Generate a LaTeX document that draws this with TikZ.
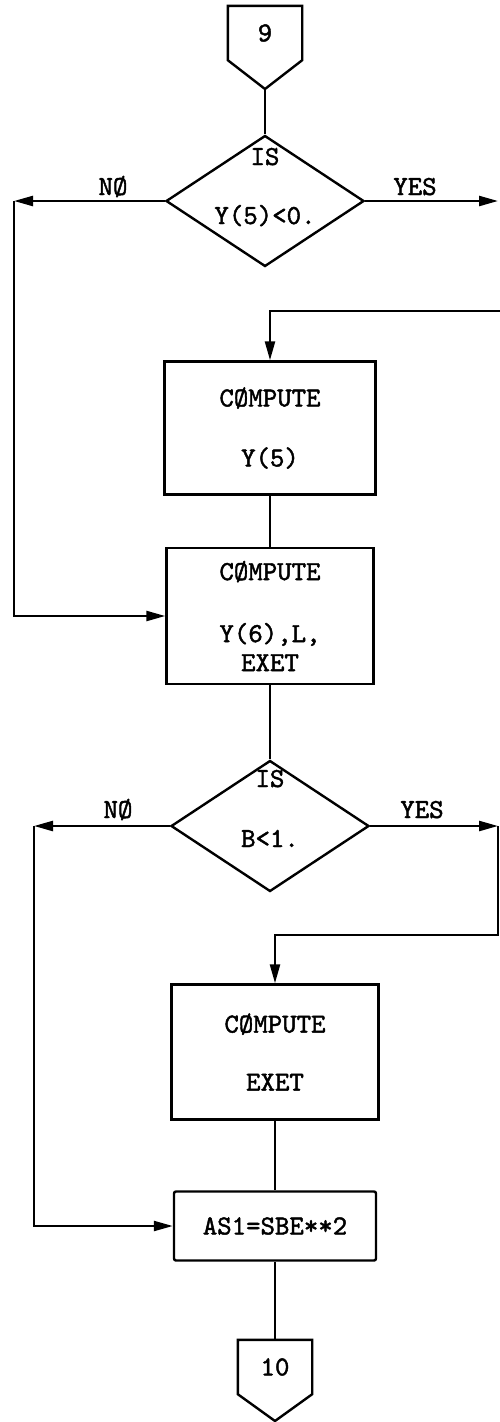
\documentclass[tikz,border=0pt]{standalone}
\usepackage{fontspec}
\setmonofont{lmmono10-regular.otf}[FakeBold=1.6]
\usepackage{tikz}
\usetikzlibrary{shapes.geometric, arrows.meta}
\tikzstyle{box} = [rectangle, minimum width=207pt, minimum height=135pt, align=center, inner sep=0pt, draw=black, line width=2.4pt, fill=white]
\tikzstyle{test} = [diamond, minimum width=198pt, minimum height=131pt, inner sep=0pt, draw=black, line width=2.4pt]
\tikzstyle{page} = [rectangle, minimum width=74pt, minimum height=54pt, inner sep=0pt]
\tikzstyle{word} = [inner sep=0pt, anchor=base]
\tikzstyle{line} = [line width=2.4pt]
\tikzstyle{arrow} = [line width=2.4pt, -{Triangle[length=19pt,width=10pt]}]

\begin{document}
\begin{tikzpicture}[x=1pt, y=-1pt, font=\ttfamily\fontsize{27.5}{30}\selectfont]
\useasboundingbox (0,0) rectangle (500,1422);

\node (c9) [page] at (265,33) {9};
\coordinate (c9tip) at (265,89);
\draw [line] (c9.north west) -- (c9.north east) -- (c9.south east) -- (c9tip) -- (c9.south west) -- cycle;

\node (d1) [test] at (265,201) {};
\node (is1) [word] at (265,165) {IS};
\node (q1) [word] at (265,224) {Y(5)<0.};

\node (b1) [box, minimum width=211pt, minimum height=133pt] at (270,428) {CØMPUTE\\[30pt]Y(5)};
\node (b2) [box, minimum height=136pt] at (270,616) {CØMPUTE\\[32pt]Y(6),L,\\[-1pt]EXET};

\node (d2) [test] at (270,826) {};
\node (is2) [word] at (270,787) {IS};
\node (q2) [word] at (270,847) {B<1.};

\node (b3) [box] at (275,1052) {CØMPUTE\\[28pt]EXET};
\node (b4) [box, minimum width=202pt, minimum height=69pt, rounded corners=2pt] at (275,1226) {AS1=SBE**2};

\node (c10) [page] at (275,1367) {10};
\coordinate (c10tip) at (275,1421);
\draw [line] (c10.north west) -- (c10.north east) -- (c10.south east) -- (c10tip) -- (c10.south west) -- cycle;

% branch labels
\node (no1) [word] at (113,195) {NØ};
\node (yes1) [word] at (415,195) {YES};
\node (no2) [word] at (118,818) {NØ};
\node (yes2) [word] at (422,818) {YES};

% free ends at the edges
\coordinate (left1) at (14,201);
\coordinate (right1) at (498,201);
\coordinate (back1) at (500,311);
\coordinate (left2) at (34,826);
\coordinate (right2) at (498,826);
\coordinate (turn2) at (498,935);

\draw [line] (c9tip) -- (d1.north);
\draw [arrow] (d1.west) -- (left1);
\draw [arrow] (d1.east) -- (right1);
\draw [arrow] (left1) |- (b2.west);
\draw [arrow] (back1) -| (b1.north);
\draw [line] (b1.south) -- (b2.north);
\draw [line] (b2.south) -- (d2.north);
\draw [arrow] (d2.west) -- (left2);
\draw [arrow] (d2.east) -- (right2);
\draw [arrow] (right2) -- (turn2) -| (b3.north);
\draw [arrow] (left2) |- (b4.west);
\draw [line] (b3.south) -- (b4.north);
\draw [line] (b4.south) -- (c10.north);

\end{tikzpicture}
\end{document}
